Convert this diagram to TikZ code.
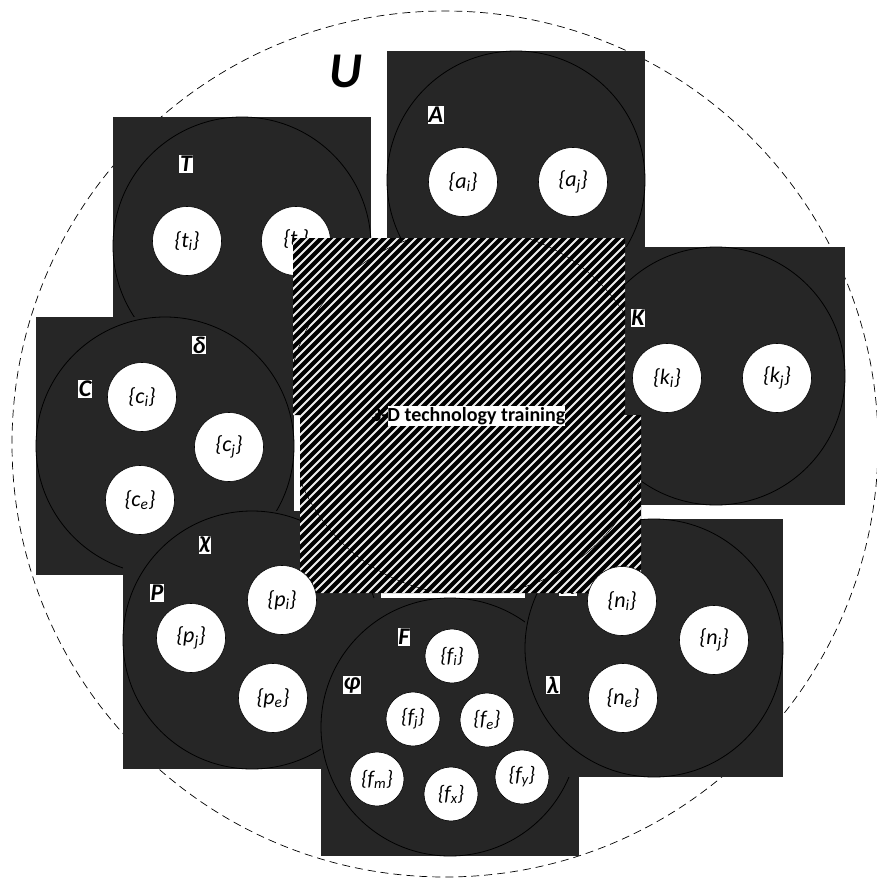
\documentclass[tikz,border=0pt]{standalone}
\usepackage{fontspec}
\setmainfont{Carlito}
\definecolor{boxgray}{RGB}{38,38,38}
\newcommand{\sbs}[2]{\{#1\textsubscript{#2}\}}
\begin{document}
\begin{tikzpicture}[x=1pt,y=-1pt,
  setbox/.style={fill=boxgray, minimum size=258pt, inner sep=0pt, outer sep=0pt},
  setcirc/.style={circle, draw=black, line width=0.8pt, minimum size=258pt, inner sep=0pt},
  elem/.style={circle, draw=black, fill=white, line width=0.6pt, minimum size=69pt, inner sep=0pt, font=\fontsize{22}{22}\selectfont\itshape},
  selem/.style={elem, minimum size=54pt, font=\fontsize{21}{21}\selectfont\itshape},
  lab/.style={fill=white, inner sep=0.8pt, font=\fontsize{24}{24}\selectfont\bfseries\itshape},
  ttl/.style={font=\fontsize{20}{20}\selectfont\bfseries, inner sep=0pt},
]
\useasboundingbox (0,0) rectangle (877,880);
\fill[white] (0,0) rectangle (877,880);
% universe
\node[circle, draw=black, dashed, dash pattern=on 8pt off 5pt, line width=0.7pt, minimum size=866pt, inner sep=0pt] (Uc) at (445,444) {};
\node[font=\fontsize{50}{50}\selectfont\bfseries\itshape] (U) at (346,71) {U};
% set boxes and outlines
\node[setbox] (Tbox) at (242,246) {};
\node[setcirc] (Tc) at (242,246) {};
\node[setbox] (Abox) at (516,180) {};
\node[setcirc] (Ac) at (516,180) {};
\node[setbox] (Kbox) at (716,376) {};
\node[setcirc] (Kc) at (716,376) {};
% T content (partly under the hatched square)
\node[elem] (ti) at (187,241) {\sbs{t}{i}};
\node[elem] (tj) at (296,241) {\sbs{t}{j}};
\node[lab] (Tl) at (186,164) {T};
\node[setbox] (Cbox) at (165,446) {};
\node[setcirc] (Cc) at (165,446) {};
\node[setbox] (Pbox) at (252,640) {};
\node[setcirc] (Pc) at (252,640) {};
\node[setbox] (Fbox) at (450,727) {};
\node[setcirc] (Fc) at (450,727) {};
\node[setbox] (Nbox) at (654,648) {};
\node[setcirc] (Nc) at (654,648) {};
\node[lab] (Nl) at (568,587) {N};
% hatched centre
\begin{scope}
\clip (293,238) -- (625,238) -- (625,415) -- (641,415) -- (641,593) -- (300,593) -- (300,415) -- (293,415) -- cycle;
\fill[black] (280,230) rectangle (650,600);
\foreach \k in {-90,-81,...,660} \draw[white!85!gray, line width=2pt] (\k,600) -- ++(380,-380);
\draw[black, line width=0.6pt] (470,412) circle (183pt);
\end{scope}
\fill[white] (388,406) rectangle (565,426);
\node[ttl, anchor=west] (title) at (371,416) {3-D technology training};
% A
\node[elem] (ai) at (463,182) {\sbs{a}{i}};
\node[elem] (aj) at (573,182) {\sbs{a}{j}};
\node[lab] (Al) at (436,115) {A};
% K
\node[elem] (ki) at (667,378) {\sbs{k}{i}};
\node[elem] (kj) at (777,378) {\sbs{k}{j}};
\node[lab] (Kl) at (638,318) {K};
% C
\node[elem] (ci) at (142,397) {\sbs{c}{i}};
\node[elem] (cj) at (229,447) {\sbs{c}{j}};
\node[elem] (ce) at (140,500) {\sbs{c}{e}};
\node[lab] (Cl) at (85,389) {C};
\node[lab] (dl) at (199,345) {δ};
% P
\node[elem] (pi) at (282,600) {\sbs{p}{i}};
\node[elem] (pj) at (191,638) {\sbs{p}{j}};
\node[elem] (pe) at (273,698) {\sbs{p}{e}};
\node[lab] (Pl) at (157,593) {P};
\node[lab] (xl) at (205,545) {χ};
% F
\node[selem] (fi) at (452,656) {\sbs{f}{i}};
\node[selem] (fj) at (413,719) {\sbs{f}{j}};
\node[selem] (fe) at (487,720) {\sbs{f}{e}};
\node[selem] (fm) at (377,779) {\sbs{f}{m}};
\node[selem] (fx) at (451,794) {\sbs{f}{x}};
\node[selem] (fy) at (522,777) {\sbs{f}{y}};
\node[lab] (Fl) at (404,637) {F};
\node[lab] (phl) at (352,685) {φ};
% N
\node[elem] (ni) at (622,601) {\sbs{n}{i}};
\node[elem] (nj) at (714,640) {\sbs{n}{j}};
\node[elem] (ne) at (623,698) {\sbs{n}{e}};
\node[lab] (ll) at (553,685) {λ};
\end{tikzpicture}
\end{document}
